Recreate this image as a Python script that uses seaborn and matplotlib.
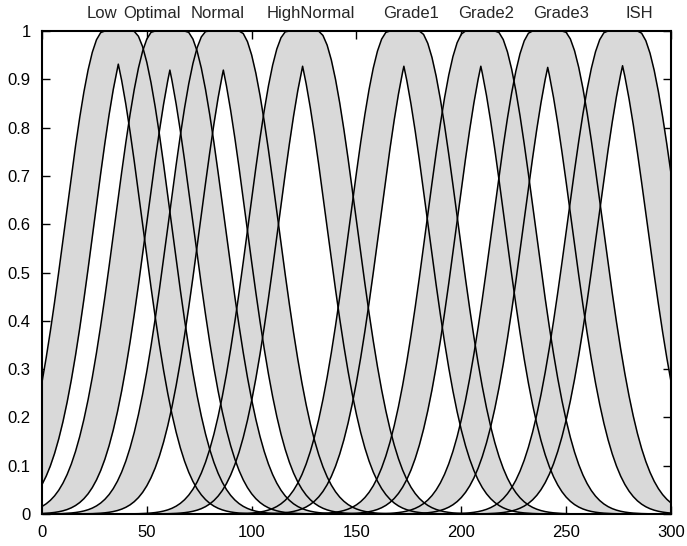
import numpy as np
import pandas as pd
import matplotlib
matplotlib.use("Agg")
import matplotlib.pyplot as plt
import seaborn as sns

# Conjuntos fuzzy tipo 2 (gaussianas com média incerta)
rotulos = ["Low", "Optimal", "Normal", "HighNormal", "Grade1", "Grade2", "Grade3", "ISH"]
centros = [36.4, 61.0, 86.5, 124.3, 172.6, 209.3, 241.2, 276.9]
meia_incerteza = [6.9, 7.6, 7.6, 7.2, 7.2, 7.2, 7.4, 7.3]
sigmas = [18.3, 18.5, 18.5, 18.5, 18.5, 18.5, 18.7, 18.9]
pos_rotulos = [28.5, 52.7, 84.0, 128.0, 175.9, 211.6, 247.5, 285.0]
x_ticks = [0, 50, 100, 150, 200, 250, 300]
y_ticks = [0, 0.1, 0.2, 0.3, 0.4, 0.5, 0.6, 0.7, 0.8, 0.9, 1.0]

CINZA = "#d9d9d9"

sns.set_theme(style="white")
plt.rcParams["font.family"] = ["Liberation Sans", "DejaVu Sans"]


def gauss(x, m, s):
    return np.exp(-0.5 * ((x - m) / s) ** 2)


def funcoes_pertinencia(x, c, d, s):
    m1, m2 = c - d, c + d
    g1, g2 = gauss(x, m1, s), gauss(x, m2, s)
    superior = np.where(x < m1, g1, np.where(x > m2, g2, 1.0))
    inferior = np.minimum(g1, g2)
    return inferior, superior


linhas = []
for nome, c, d, s in zip(rotulos, centros, meia_incerteza, sigmas):
    # amostragem do universo incluindo o pico da FP inferior
    x = np.union1d(np.linspace(0, 300, 151), [c])
    inf, sup = funcoes_pertinencia(x, c, d, s)
    linhas.append(pd.DataFrame({"x": x, "mu": sup, "conjunto": nome, "curva": nome + "_sup"}))
    linhas.append(pd.DataFrame({"x": x, "mu": inf, "conjunto": nome, "curva": nome + "_inf"}))
df = pd.concat(linhas, ignore_index=True)

fig = plt.figure(figsize=(6.87, 5.46), dpi=100)
ax = fig.add_axes([0.0611, 0.0586, 0.9156, 0.8846])

# Preenchimento da FOU (footprint of uncertainty)
for nome in rotulos:
    sup = df[df["curva"] == nome + "_sup"]
    inf = df[df["curva"] == nome + "_inf"]
    ax.fill_between(sup["x"].values, inf["mu"].values, sup["mu"].values,
                    color=CINZA, linewidth=0, zorder=1)

sns.lineplot(data=df, x="x", y="mu", units="curva", estimator=None,
             color="black", linewidth=1.1, ax=ax, zorder=2)

for nome, px in zip(rotulos, pos_rotulos):
    ax.text(px, 1.02, nome, transform=ax.get_xaxis_transform(),
            ha="center", va="bottom", fontsize=12)

ax.set_xlim(0, 300)
ax.set_ylim(0, 1)
ax.set_xticks(x_ticks)
ax.set_yticks(y_ticks)
ax.set_yticklabels([f"{v:g}" for v in y_ticks])
ax.set_xlabel("")
ax.set_ylabel("")
ax.tick_params(direction="in", length=6, width=1, top=True, right=True,
               bottom=True, left=True, labelsize=12, pad=8, colors="black")
for sp in ax.spines.values():
    sp.set_color("black")
    sp.set_linewidth(1.5)

fig.savefig("out.png", dpi=100)
